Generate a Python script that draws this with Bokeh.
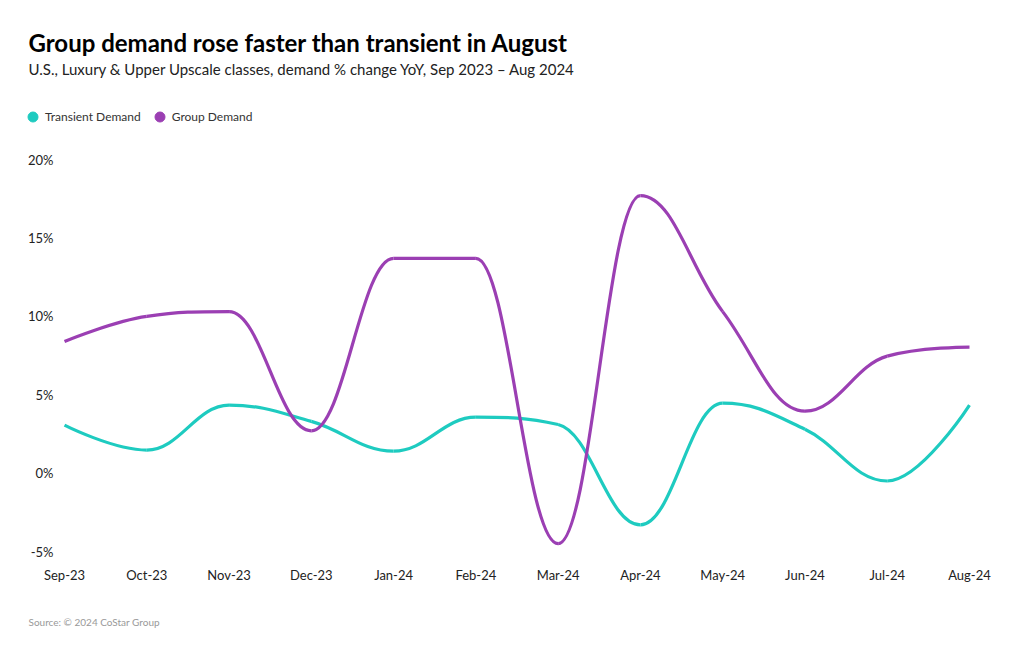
import numpy as np
from bokeh.plotting import figure
from bokeh.models import Range1d, FixedTicker, CustomJSTickFormatter, Title, Legend, LegendItem, ColumnDataSource
from bokeh.embed import file_html
from bokeh.resources import INLINE

months = ["Sep-23", "Oct-23", "Nov-23", "Dec-23", "Jan-24", "Feb-24",
          "Mar-24", "Apr-24", "May-24", "Jun-24", "Jul-24", "Aug-24"]
transient = [3.06, 1.47, 4.34, 3.3, 1.4, 3.57, 3.1, -3.3, 4.46, 2.8, -0.5, 4.34]
group = [8.4, 10.0, 10.3, 2.7, 13.7, 13.7, -4.5, 17.7, 10.3, 3.95, 7.46, 8.04]
y_ticks = [-5, 0, 5, 10, 15, 20]

TEAL = "#1ecbc0"
PURPLE = "#9b3fb3"
FONT = "Lato"


def spline_segments(ys, smoothing=1.5):
    """Highcharts-style spline: returns bezier segment arrays in data space."""
    n = len(ys)
    xs = list(range(n))
    lc = [(x, y) for x, y in zip(xs, ys)]
    rc = [(x, y) for x, y in zip(xs, ys)]
    d = smoothing + 1
    for i in range(1, n - 1):
        px, py = xs[i], ys[i]
        lx, ly = xs[i - 1], ys[i - 1]
        nx, ny = xs[i + 1], ys[i + 1]
        lcx = (smoothing * px + lx) / d
        lcy = (smoothing * py + ly) / d
        rcx = (smoothing * px + nx) / d
        rcy = (smoothing * py + ny) / d
        if rcx != lcx:
            corr = ((rcy - lcy) * (rcx - px)) / (rcx - lcx) + py - rcy
            lcy += corr
            rcy += corr
        if lcy > ly and lcy > py:
            lcy = max(ly, py)
            rcy = 2 * py - lcy
        elif lcy < ly and lcy < py:
            lcy = min(ly, py)
            rcy = 2 * py - lcy
        if rcy > ny and rcy > py:
            rcy = max(ny, py)
            lcy = 2 * py - rcy
        elif rcy < ny and rcy < py:
            rcy = min(ny, py)
            lcy = 2 * py - rcy
        lc[i] = (lcx, lcy)
        rc[i] = (rcx, rcy)
    seg = dict(x0=[], y0=[], x1=[], y1=[], cx0=[], cy0=[], cx1=[], cy1=[])
    for i in range(1, n):
        seg["x0"].append(xs[i - 1]); seg["y0"].append(ys[i - 1])
        seg["x1"].append(xs[i]); seg["y1"].append(ys[i])
        seg["cx0"].append(rc[i - 1][0]); seg["cy0"].append(rc[i - 1][1])
        seg["cx1"].append(lc[i][0]); seg["cy1"].append(lc[i][1])
    return seg


FRAME_H = 512
p = figure(frame_width=974, frame_height=FRAME_H, output_backend="svg", toolbar_location=None,
           x_range=Range1d(-0.535, len(months) - 1 + 0.304), y_range=Range1d(-7.42, 25.23),
           min_border_left=20, min_border_right=10, min_border_top=0, min_border_bottom=10)
p.outline_line_color = None
p.grid.visible = False
p.background_fill_color = "white"
p.border_fill_color = "white"

for vals, col in [(transient, TEAL), (group, PURPLE)]:
    src = ColumnDataSource(spline_segments(vals))
    p.bezier(x0="x0", y0="y0", x1="x1", y1="y1", cx0="cx0", cy0="cy0",
             cx1="cx1", cy1="cy1", source=src, line_color=col, line_width=3.2)

r_t = p.scatter(x=[0], y=[-100], size=11, color=TEAL)
r_g = p.scatter(x=[0], y=[-100], size=11, color=PURPLE)

# axes
p.xaxis.ticker = FixedTicker(ticks=list(range(len(months))))
p.xaxis.major_label_overrides = {i: m for i, m in enumerate(months)}
p.xaxis.fixed_location = -5
p.yaxis.ticker = FixedTicker(ticks=y_ticks)
p.yaxis.formatter = CustomJSTickFormatter(code="return tick + '%';")
p.yaxis.fixed_location = 0
for ax in (p.xaxis, p.yaxis):
    ax.axis_line_color = None
    ax.major_tick_line_color = None
    ax.minor_tick_line_color = None
    ax.major_label_text_font = FONT
    ax.major_label_text_font_size = "13px"
    ax.major_label_text_color = "#222222"
p.xaxis.major_label_standoff = 9
p.yaxis.major_label_standoff = 5

# legend
legend = Legend(items=[LegendItem(label="Transient Demand", renderers=[r_t]),
                       LegendItem(label="Group Demand", renderers=[r_g])],
                orientation="horizontal", location=(0, FRAME_H - 52),
                label_text_font=FONT, label_text_font_size="12px",
                label_text_color="#333333", glyph_width=25, glyph_height=25,
                label_standoff=-5, spacing=6, padding=0, margin=0,
                border_line_color=None, background_fill_alpha=0)
p.add_layout(legend, "center")

p.add_layout(Title(text="U.S., Luxury & Upper Upscale classes, demand % change YoY, Sep 2023 \u2013 Aug 2024",
                   text_font=FONT, text_font_size="15px", text_font_style="normal",
                   text_color="#222222", align="left", offset=8, standoff=0), "above")
p.add_layout(Title(text="Group demand rose faster than transient in August",
                   text_font=FONT, text_font_size="24px", text_font_style="bold",
                   text_color="#000000", align="left", offset=8, standoff=2), "above")
p.add_layout(Title(text=" ", text_font_size="20px", standoff=0), "above")

p.add_layout(Title(text="Source: \u00a9 2024 CoStar Group", text_font=FONT,
                   text_font_size="10px", text_font_style="normal",
                   text_color="#999999", align="left", offset=8, standoff=48), "below")

open("out.html", "w").write(file_html(p, INLINE))
